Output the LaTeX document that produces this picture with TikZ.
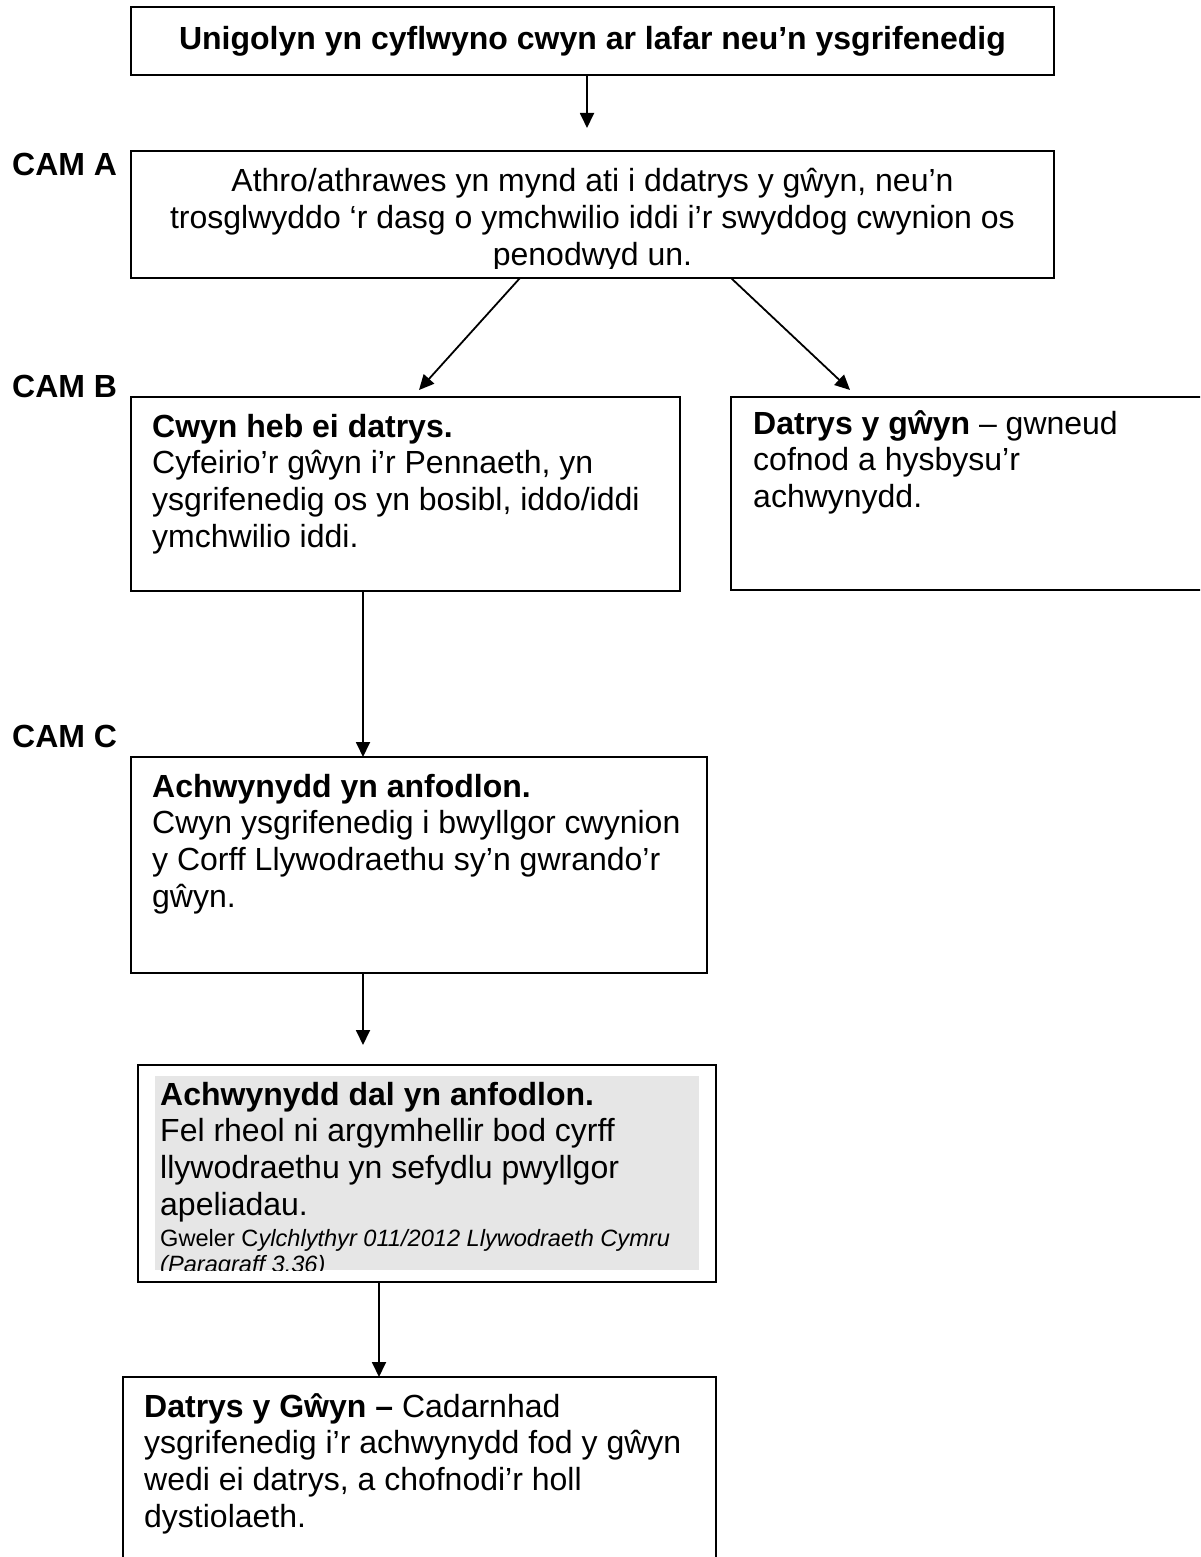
\documentclass[tikz,border=0pt]{standalone}
\usepackage{fontspec}
\setmainfont{Liberation Sans}
\usetikzlibrary{arrows.meta}
\definecolor{panelgray}{RGB}{230,230,230}
\newcommand\bodyfont{\fontsize{32pt}{36.7pt}\selectfont}
\newcommand\notefont{\fontsize{23.6pt}{26pt}\selectfont}
\newcommand\lines[2]{\parbox[t]{#1}{\raggedright\bodyfont #2}}

\begin{document}
\begin{tikzpicture}[x=1pt,y=-1pt,
  box/.style={draw, line width=1.8pt, rectangle, inner sep=0pt, outer sep=0pt, anchor=north west},
  txt/.style={anchor=base west, inner sep=0pt},
  flow/.style={line width=1.8pt, -{Triangle[length=15pt,width=14pt]}},
  stage/.style={anchor=base west, inner sep=0pt, font=\bodyfont\bfseries}]

\clip (0,0) rectangle (1200,1557);
\fill[white] (0,0) rectangle (1200,1557);

% stage labels
\node[stage] (camA) at (12,176) {CAM A};
\node[stage] (camB) at (12,397) {CAM B};
\node[stage] (camC) at (12,747) {CAM C};

% opening box
\node[box, minimum width=923pt, minimum height=68pt] (top) at (131,7) {};
\node[anchor=base, inner sep=0pt, font=\bodyfont\bfseries] (toptxt) at (592.5,50)
  {Unigolyn yn cyflwyno cwyn ar lafar neu’n ysgrifenedig};

% stage A
\node[box, minimum width=923pt, minimum height=127pt] (boxA) at (131,151) {};
\begin{scope}
  \clip (131,151) rectangle (1054,268);
  \node[anchor=base, inner sep=0pt] (txtA) at (592.5,192)
    {\parbox[t]{900pt}{\centering\bodyfont
      Athro/athrawes yn mynd ati i ddatrys y gŵyn, neu’n\\
      trosglwyddo ‘r dasg o ymchwilio iddi i’r swyddog cwynion os\\
      penodwyd un.}};
\end{scope}

% stage B
\node[box, minimum width=549pt, minimum height=194pt] (boxB) at (131,397) {};
\node[txt] (txtB) at (152,437) {\lines{520pt}{%
  \textbf{Cwyn heb ei datrys.}\\
  Cyfeirio’r gŵyn i’r Pennaeth, yn\\
  ysgrifenedig os yn bosibl, iddo/iddi\\
  ymchwilio iddi.}};

\node[box, minimum width=479pt, minimum height=193pt] (boxR) at (731,397) {};
\node[txt] (txtR) at (753,434) {\lines{440pt}{%
  \textbf{Datrys y gŵyn} – gwneud\\
  cofnod a hysbysu’r\\
  achwynydd.}};

% stage C
\node[box, minimum width=576pt, minimum height=216pt] (boxC) at (131,757) {};
\node[txt] (txtC) at (152,797) {\lines{550pt}{%
  \textbf{Achwynydd yn anfodlon.}\\
  Cwyn ysgrifenedig i bwyllgor cwynion\\
  y Corff Llywodraethu sy’n gwrando’r\\
  gŵyn.}};

% appeal box with grey text area
\node[box, minimum width=578pt, minimum height=217pt] (boxD) at (138,1065) {};
\begin{scope}
  \clip (155,1076) rectangle (699,1270);
  \fill[panelgray] (155,1076) rectangle (699,1270);
  \node[txt] (txtD) at (160,1105) {\lines{535pt}{%
    \textbf{Achwynydd dal yn anfodlon.}\\
    Fel rheol ni argymhellir bod cyrff\\
    llywodraethu yn sefydlu pwyllgor\\
    apeliadau.}};
  \node[txt] (noteD) at (160,1246) {\parbox[t]{535pt}{\raggedright\notefont
    Gweler C\textit{ylchlythyr 011/2012 Llywodraeth Cymru}\\
    \textit{(Paragraff 3.36)}}};
\end{scope}

% resolution box
\node[box, minimum width=593pt, minimum height=200pt] (boxE) at (123,1377) {};
\node[txt] (txtE) at (144,1417) {\lines{570pt}{%
  \textbf{Datrys y Gŵyn –} Cadarnhad\\
  ysgrifenedig i’r achwynydd fod y gŵyn\\
  wedi ei datrys, a chofnodi’r holl\\
  dystiolaeth.}};

% connectors
\draw[flow] ([xshift=-5.5pt]top.south) -- ([xshift=-5.5pt,yshift=23pt]boxA.north);
\draw[flow] ([xshift=-72.5pt]boxA.south) -- ([xshift=13.5pt,yshift=7pt]boxB.north);
\draw[flow] ([xshift=138.5pt]boxA.south) -- ([xshift=119pt,yshift=7pt]boxR.north west);
\draw[flow] ([xshift=232pt]boxB.south west) -- ([xshift=232pt]boxC.north west);
\draw[flow] ([xshift=232pt]boxC.south west) -- ([xshift=225pt,yshift=20pt]boxD.north west);
\draw[flow] ([xshift=241pt]boxD.south west) -- ([xshift=256pt]boxE.north west);
\end{tikzpicture}
\end{document}
